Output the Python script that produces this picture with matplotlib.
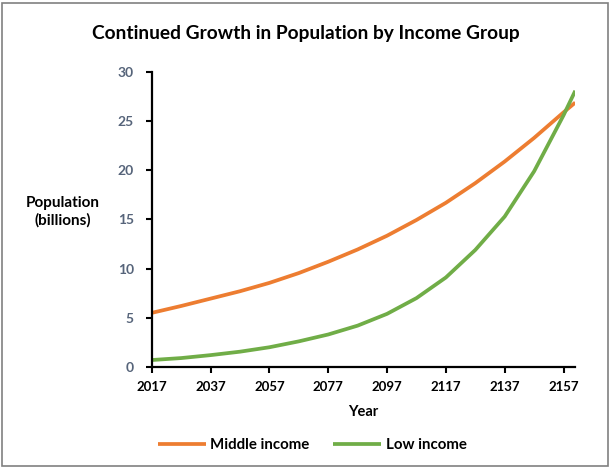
import matplotlib.pyplot as plt
from matplotlib.patches import Rectangle

# Projected population (billions), read every 10 years
years = [2017, 2027, 2037, 2047, 2057, 2067, 2077, 2087, 2097, 2107,
         2117, 2127, 2137, 2147, 2157, 2161]
middle_income = [5.5, 6.2, 6.95, 7.7, 8.55, 9.55, 10.7, 11.95, 13.35, 14.95,
                 16.7, 18.7, 20.9, 23.3, 25.9, 26.9]
low_income = [0.7, 0.9, 1.2, 1.55, 2.0, 2.6, 3.3, 4.2, 5.4, 7.0,
              9.1, 11.9, 15.3, 19.9, 25.6, 28.1]
x_ticks = [2017, 2037, 2057, 2077, 2097, 2117, 2137, 2157]
y_ticks = [0, 5, 10, 15, 20, 25, 30]

plt.rcParams['font.family'] = ['Lato', 'DejaVu Sans']

fig = plt.figure(figsize=(6.12, 4.68), dpi=100)
ax = fig.add_axes([0.248, 0.216, 0.692, 0.630])

ax.plot(years, middle_income, color='#ED7D31', lw=2.7, label='Middle income',
        solid_capstyle='butt')
ax.plot(years, low_income, color='#70AD47', lw=2.7, label='Low income',
        solid_capstyle='butt')

ax.set_xlim(2017, 2161)
ax.set_ylim(0, 30)
ax.set_xticks(x_ticks)
ax.set_yticks(y_ticks)
ax.tick_params(axis='x', direction='out', length=4, width=1.5, pad=6,
               labelsize=9.5)
ax.tick_params(axis='y', direction='out', length=4, width=1.5, pad=9,
               labelsize=10, labelcolor='#56647a')
for lab in ax.get_xticklabels() + ax.get_yticklabels():
    lab.set_fontweight('bold')

for side in ['top', 'right']:
    ax.spines[side].set_visible(False)
for side in ['left', 'bottom']:
    ax.spines[side].set_linewidth(1.6)

ax.set_xlabel('Year', fontsize=10.5, fontweight='bold', labelpad=9)
fig.text(0.102, 0.547, 'Population\n(billions)', ha='center', va='center',
         fontsize=11, fontweight='bold', linespacing=1.25)

fig.text(0.5, 0.929, 'Continued Growth in Population by Income Group',
         ha='center', va='center', fontsize=13.8, fontweight='bold')

leg = fig.legend(loc='center', bbox_to_anchor=(0.51, 0.049), ncol=2,
                 frameon=False, handlelength=3.2, handletextpad=0.3,
                 columnspacing=1.6, prop={'size': 10.8, 'weight': 'bold'})

# chart border
fig.patches.append(Rectangle((0.004, 0.004), 0.990, 0.990,
                             transform=fig.transFigure, fill=False,
                             edgecolor='#808080', lw=1.2))

fig.savefig('out.png', dpi=100)
